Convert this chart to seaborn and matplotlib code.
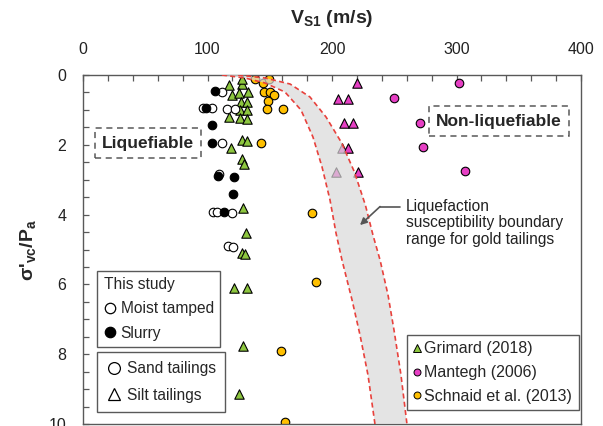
import numpy as np
import pandas as pd
import matplotlib
matplotlib.use("Agg")
import matplotlib.pyplot as plt
import seaborn as sns
from matplotlib.lines import Line2D

# ---------------- data ----------------
moist_x = [111.4, 96.6, 103.3, 115.4, 122.1, 111.4, 109.5, 104.2, 107.4, 119.4, 116.7, 120.7]
moist_y = [0.48, 0.95, 0.95, 0.97, 0.97, 1.94, 2.85, 3.92, 3.92, 3.94, 4.89, 4.92]

slurry_x = [106, 99, 104, 104, 108.7, 121.5, 120.2, 113.3]
slurry_y = [0.46, 0.95, 1.43, 1.94, 2.89, 2.93, 3.42, 3.92]

grimard_x = [117.3, 128, 127.5, 119.4, 125.6, 132.8, 126.9, 131.4, 126.1, 131.5, 117.3, 126.1,
             131.5, 127.5, 131.5, 118.6, 128, 129.6, 128.8, 131, 127.5, 130.1, 121.5, 131.4,
             128.8, 125.3]
grimard_y = [0.29, 0.26, 0.12, 0.57, 0.52, 0.50, 0.76, 0.76, 1.0, 1.0, 1.19, 1.24,
             1.27, 1.86, 1.88, 2.1, 2.42, 2.55, 3.82, 4.54, 5.09, 5.13, 6.11, 6.11,
             7.77, 9.15]

schnaid_x = [138, 144.8, 149.4, 145.4, 150.2, 153.7, 148.3, 147.5, 160.3, 143, 183.7, 187, 159, 162]
schnaid_y = [0.12, 0.22, 0.11, 0.48, 0.48, 0.57, 0.74, 0.98, 0.98, 1.94, 3.96, 5.93, 7.9, 9.95]

mantegh_tri_x = [219.8, 204.6, 212.6, 209.9, 217.1, 207.7, 212.6, 203, 221.1]
mantegh_tri_y = [0.24, 0.70, 0.70, 1.38, 1.38, 2.1, 2.1, 2.77, 2.77]
mantegh_cir_x = [302.3, 249.8, 270.7, 273.4, 306.8]
mantegh_cir_y = [0.22, 0.67, 1.37, 2.07, 2.75]

# boundary range curves
left_x = [111.6, 130.1, 146.2, 162.2, 175.1, 184.7, 192.0, 198.4, 203.2, 208.0, 216.1, 222.5, 228.9, 234.5]
left_y = [0.0, 0.086, 0.229, 0.487, 1.003, 1.777, 2.636, 3.582, 4.527, 5.301, 6.447, 7.45, 8.596, 10.0]
right_x = [124.5, 146.2, 166.3, 182.3, 195.2, 207.8, 218.0, 226.8, 232.9, 238.6, 245.0, 249.8, 255.4, 260.2]
right_y = [0.0, 0.086, 0.258, 0.63, 1.203, 1.948, 2.779, 3.725, 4.585, 5.301, 6.304, 7.307, 8.596, 10.0]

x_ticks = [0, 100, 200, 300, 400]
y_ticks = [0, 2, 4, 6, 8, 10]

# ---------------- style ----------------
sns.set_style("white")
plt.rcParams['font.family'] = ['Liberation Sans', 'DejaVu Sans']
plt.rcParams['mathtext.fontset'] = 'custom'
plt.rcParams['mathtext.rm'] = 'Liberation Sans'
plt.rcParams['mathtext.bf'] = 'Liberation Sans:bold'

GREEN = '#8dc63f'
MAGENTA = '#e63fc4'
YELLOW = '#ffc000'
FRAME = '#595959'

fig = plt.figure(figsize=(6.03, 4.26), dpi=100)
ax = fig.add_axes([83/603, 2/426, 498/603, 349/426])

def df(x, y):
    return pd.DataFrame({'V': x, 'S': y})

kw = dict(ax=ax, legend=False, zorder=2, linewidth=0.8)
sns.scatterplot(data=df(grimard_x, grimard_y), x='V', y='S', marker='^', s=46,
                color=GREEN, edgecolor='black', **kw)
sns.scatterplot(data=df(mantegh_tri_x, mantegh_tri_y), x='V', y='S', marker='^', s=46,
                color=MAGENTA, edgecolor='black', **kw)
sns.scatterplot(data=df(mantegh_cir_x, mantegh_cir_y), x='V', y='S', marker='o', s=38,
                color=MAGENTA, edgecolor='black', **kw)
sns.scatterplot(data=df(schnaid_x, schnaid_y), x='V', y='S', marker='o', s=38,
                color=YELLOW, edgecolor='black', **kw)
sns.scatterplot(data=df(moist_x, moist_y), x='V', y='S', marker='o', s=38,
                color='white', edgecolor='black', **kw)
sns.scatterplot(data=df(slurry_x, slurry_y), x='V', y='S', marker='o', s=38,
                color='black', edgecolor='black', **kw)

# band
ax.fill(np.concatenate([left_x, right_x[::-1]]), np.concatenate([left_y, right_y[::-1]]),
        color='#d9d9d9', alpha=0.7, lw=0, zorder=3)
ax.plot(left_x, left_y, color='#e8413c', lw=1.2, ls=(0, (3, 2)), zorder=4)
ax.plot(right_x, right_y, color='#e8413c', lw=1.2, ls=(0, (3, 2)), zorder=4)

# axes
ax.set_xlim(0, 400)
ax.set_ylim(10, 0)
ax.xaxis.tick_top()
ax.xaxis.set_label_position('top')
ax.set_xticks(x_ticks)
ax.set_yticks(y_ticks)
ax.set_xticks(np.arange(0, 401, 20), minor=True)
ax.set_yticks(np.arange(0, 10.01, 0.5), minor=True)
ax.tick_params(axis='both', which='both', direction='in', color=FRAME, labelsize=11.5,
               labelcolor='#222222')
ax.tick_params(axis='both', which='major', length=4, width=0.9)
ax.tick_params(axis='both', which='minor', length=4, width=0.9)
ax.tick_params(axis='x', which='both', top=True, bottom=False, pad=13)
ax.tick_params(axis='y', which='both', left=True, right=False, pad=12)
for sp in ax.spines.values():
    sp.set_color(FRAME)
    sp.set_linewidth(1.0)

ax.set_xlabel(r"V$_{\mathbf{S1}}$ (m/s)", fontsize=14, fontweight='bold', labelpad=14)
ax.set_ylabel(r"σ'$_{\mathbf{vc}}$/P$_{\mathbf{a}}$", fontsize=14, fontweight='bold', labelpad=7)

# region labels
ax.text(52.2, 1.95, 'Liquefiable', fontsize=12.5, fontweight='bold', ha='center', va='center',
        zorder=6, bbox=dict(boxstyle='square,pad=0.42', fc='white', ec=FRAME, ls=(0, (4, 3)), lw=1.1))
ax.text(334, 1.32, 'Non-liquefiable', fontsize=12.5, fontweight='bold', ha='center', va='center',
        zorder=6, bbox=dict(boxstyle='square,pad=0.42', fc='white', ec=FRAME, ls=(0, (4, 3)), lw=1.1))

# annotation
ax.plot([254.6, 238.6], [3.77, 3.77], color='#555555', lw=1.2, zorder=6)
ax.annotate('', xy=(222.5, 4.30), xytext=(238.6, 3.77),
            arrowprops=dict(arrowstyle='-|>', color='#555555', lw=1.2, mutation_scale=10,
                            shrinkA=0, shrinkB=0), zorder=6)
ax.text(259.4, 3.55, 'Liquefaction\nsusceptibility boundary\nrange for gold tailings',
        fontsize=11.2, ha='left', va='top', linespacing=1.12, color='#222222', zorder=6)

# legends
frame_kw = dict(frameon=True, fancybox=False, framealpha=1, edgecolor=FRAME, borderaxespad=0)

h1 = [Line2D([], [], ls='', marker='o', ms=7.5, mfc='white', mec='black', mew=0.9),
      Line2D([], [], ls='', marker='o', ms=7.5, mfc='black', mec='black', mew=0.9)]
leg1 = ax.legend(h1, ['Moist tamped', 'Slurry'], title='This study', alignment='left',
                 loc='upper left', bbox_to_anchor=(0.0287, 0.4393), fontsize=11.2,
                 title_fontsize=11.2, handlelength=0.8, handletextpad=0.3, labelspacing=0.6,
                 borderpad=0.4, **frame_kw)
leg1.get_frame().set_linewidth(1.0)
ax.add_artist(leg1)

h2 = [Line2D([], [], ls='', marker='o', ms=8.5, mfc='white', mec='black', mew=0.9),
      Line2D([], [], ls='', marker='^', ms=9, mfc='white', mec='black', mew=0.9)]
leg2 = ax.legend(h2, ['Sand tailings', 'Silt tailings'], loc='upper left',
                 bbox_to_anchor=(0.0287, 0.2072), fontsize=11.2, handlelength=0.9,
                 handletextpad=0.4, labelspacing=0.75, borderpad=0.6, borderaxespad=0,
                 frameon=True, fancybox=False, framealpha=1, edgecolor=FRAME)
leg2.get_frame().set_linewidth(1.0)
ax.add_artist(leg2)

h3 = [Line2D([], [], ls='', marker='^', ms=5.5, mfc=GREEN, mec='black', mew=0.7),
      Line2D([], [], ls='', marker='o', ms=5, mfc=MAGENTA, mec='black', mew=0.7),
      Line2D([], [], ls='', marker='o', ms=5, mfc=YELLOW, mec='black', mew=0.7)]
leg3 = ax.legend(h3, ['Grimard (2018)', 'Mantegh (2006)', 'Schnaid et al. (2013)'],
                 loc='upper left', bbox_to_anchor=(0.650, 0.255), fontsize=11.5,
                 handlelength=0.5, handletextpad=0.2, labelspacing=0.55, borderpad=0.4,
                 **frame_kw)
leg3.get_frame().set_linewidth(1.0)

fig.savefig('out.png', dpi=100)
